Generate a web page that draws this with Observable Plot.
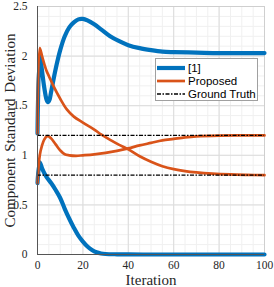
<!DOCTYPE html>
<html><head><meta charset="utf-8">
<script src="https://cdn.jsdelivr.net/npm/d3@7"></script>
<script src="https://cdn.jsdelivr.net/npm/@observablehq/plot@0.6"></script>
<style>
body{margin:0;background:#fff;}
#wrap{position:relative;width:274px;height:287px;}
#legend{position:absolute;left:155px;top:58px;}
g[aria-label="x-axis label"] text, g[aria-label="y-axis label"] text{font-size:15px;word-spacing:2px;}
</style>
</head><body>
<div id="wrap"></div>
<script>
const seriesNames = ["[1]", "Proposed", "Ground Truth"];
const seriesColors = ["#0072BD", "#D95319", "#000000"];

const iterBlueHi = [0,1,2,3,4,4.6,5.3,6,8,10,12,14,16,18,20,22,25,28,32,36,40,45,50,55,60,70,80,90,100];
const blueHi = [1.22,2.02,1.85,1.68,1.56,1.535,1.56,1.64,1.87,2.06,2.2,2.29,2.34,2.37,2.375,2.36,2.32,2.27,2.2,2.15,2.11,2.08,2.06,2.045,2.04,2.035,2.03,2.03,2.03];

const iterBlueLo = [0,1,2,3,4,6,8,10,12,14,16,18,20,22,24,26,28,30,35,40,50,60,80,100];
const blueLo = [0.72,0.93,0.87,0.82,0.78,0.72,0.65,0.57,0.46,0.36,0.27,0.19,0.13,0.08,0.045,0.022,0.01,0.005,0.002,0.001,0,0,0,0];

const iterOrHi = [0,1,2,3,4,5,7,10,13,16,20,25,28,32,36,40,45,50,55,60,65,70,77,85,92,100];
const orHi = [1.22,2.08,2.0,1.92,1.85,1.8,1.7,1.57,1.46,1.39,1.33,1.26,1.21,1.155,1.105,1.06,0.99,0.935,0.89,0.86,0.84,0.827,0.815,0.807,0.803,0.8];

const iterOrLo = [0,1,2,3,4,5,6,8,10,12,14,17,20,25,30,35,40,45,50,55,60,65,70,80,90,100];
const orLo = [0.72,1.0,1.1,1.16,1.19,1.19,1.17,1.11,1.05,1.01,1.0,0.995,1.0,1.01,1.025,1.045,1.07,1.1,1.125,1.15,1.165,1.18,1.19,1.198,1.2,1.2];

const groundTruth = [1.2, 0.8];
const xTicks = [0,20,40,60,80,100];
const yTicks = [0,0.5,1,1.5,2,2.5];

const toRows = (xs, ys, series, comp) => xs.map((x,i) => ({x, y: ys[i], series, comp}));
const blueRows = [...toRows(iterBlueHi, blueHi, "[1]", "a"), ...toRows(iterBlueLo, blueLo, "[1]", "b")];
const orRows = [...toRows(iterOrHi, orHi, "Proposed", "a"), ...toRows(iterOrLo, orLo, "Proposed", "b")];

const serif = "'Liberation Serif', 'Times New Roman', serif";
const chart = Plot.plot({
  width: 274, height: 287,
  marginLeft: 37, marginRight: 10, marginTop: 6, marginBottom: 33,
  style: {fontFamily: serif, fontSize: "11.5px", color: "#262626", background: "#fff"},
  x: {domain: [0,100], labelArrow: "none"},
  y: {domain: [0,2.5], labelArrow: "none"},
  marks: [
    Plot.ruleX(d3.range(0,101,5), {stroke: "#f0f0f0", strokeWidth: 1}),
    Plot.ruleY(d3.range(0,2.51,0.1), {stroke: "#f0f0f0", strokeWidth: 1}),
    Plot.ruleX(xTicks, {stroke: "#dcdcdc", strokeWidth: 1}),
    Plot.ruleY(yTicks, {stroke: "#dcdcdc", strokeWidth: 1}),
    Plot.frame({stroke: "#cfcfcf"}),
    Plot.line(blueRows, {x: "x", y: "y", z: "comp", stroke: seriesColors[0], strokeWidth: 4.2, curve: "catmull-rom"}),
    Plot.line(orRows, {x: "x", y: "y", z: "comp", stroke: seriesColors[1], strokeWidth: 2.7, curve: "catmull-rom"}),
    Plot.ruleY(groundTruth, {stroke: "#000", strokeWidth: 1.3, strokeDasharray: "4,1.5,1.5,1.5"}),
    Plot.ruleX([0], {stroke: "#555"}),
    Plot.ruleY([0], {stroke: "#555"}),
    Plot.axisX({ticks: xTicks, tickSize: 0, tickPadding: 6, label: "Iteration", labelArrow: "none", labelAnchor: "center", labelOffset: 30, fontFamily: serif}),
    Plot.axisY({ticks: yTicks, tickSize: 0, tickPadding: 10, label: "Component Standard Deviation", labelArrow: "none", labelAnchor: "center", labelOffset: 33, fontFamily: serif, tickFormat: d => String(d)})
  ]
});
const wrap = document.getElementById("wrap");
wrap.appendChild(chart);

// legend
const lg = d3.select(wrap).append("svg").attr("id","legend").attr("width",103).attr("height",43);
lg.append("rect").attr("x",0.5).attr("y",0.5).attr("width",102).attr("height",42).attr("fill","#fff").attr("stroke","#a0a0a0");
const rowsY = [10, 23, 36];
const widths = [4.2, 2.7, 1.3];
seriesNames.forEach((name, i) => {
  lg.append("line").attr("x1",2).attr("x2",30).attr("y1",rowsY[i]).attr("y2",rowsY[i])
    .attr("stroke", seriesColors[i]).attr("stroke-width", widths[i])
    .attr("stroke-dasharray", i === 2 ? "4,1.5,1.5,1.5" : null);
  lg.append("text").attr("x",33).attr("y",rowsY[i]).attr("dy","0.35em")
    .attr("font-family","'Liberation Sans', Arial, sans-serif").attr("font-size","11.5px").attr("fill","#000").text(name);
});
</script>
</body></html>
